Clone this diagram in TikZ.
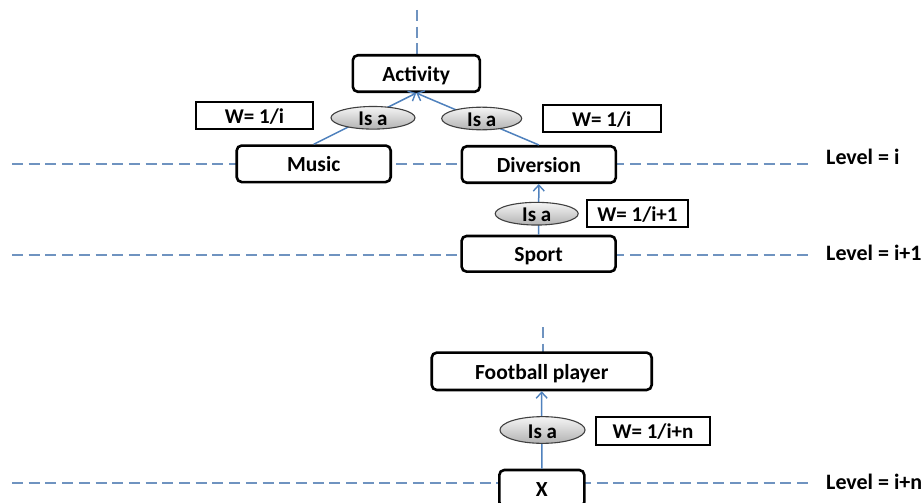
\documentclass[tikz,border=0pt]{standalone}
\usepackage{fontspec}
\setmainfont{Carlito}
\usetikzlibrary{arrows.meta,shapes.geometric}
\definecolor{linkblue}{HTML}{4F81BD}
\definecolor{levelblue}{HTML}{6F93C0}
\tikzset{
  centred caps/.style={text height=16pt, text depth=0pt},
  concept/.style={draw=black, line width=2.6pt, rounded corners=5pt, fill=white,
    inner sep=0pt, centred caps, font=\bfseries\fontsize{21.5}{25}\selectfont},
  weight/.style={draw=black, line width=1.8pt, fill=white, inner sep=0pt,
    centred caps, font=\bfseries\fontsize{21}{25}\selectfont},
  isa/.style={ellipse, draw=black!75, line width=1.1pt, top color=white!96!black,
    bottom color=black!30, inner sep=0pt, centred caps,
    font=\bfseries\fontsize{21}{25}\selectfont},
  levelline/.style={draw=levelblue, line width=1.6pt, dash pattern=on 11pt off 5.7pt},
  link/.style={draw=linkblue, line width=1.5pt, -{Straight Barb[length=6pt,width=11pt,line width=1.4pt]}},
  levellabel/.style={anchor=base west, inner sep=0pt, font=\bfseries\fontsize{22}{26}\selectfont}
}
\begin{document}
\begin{tikzpicture}[x=1pt,y=-1pt]
\useasboundingbox (0,0) rectangle (922,503);
\clip (0,0) rectangle (922,503);

% level lines and upward continuations
\coordinate (li0) at (12,164);     \coordinate (li1) at (813,164);
\coordinate (lj0) at (12,255);     \coordinate (lj1) at (813,255);
\coordinate (ln0) at (12,483);     \coordinate (ln1) at (813,483);
\coordinate (up1a) at (417,10);    \coordinate (up1b) at (417,55);
\coordinate (up2a) at (543,327);   \coordinate (up2b) at (543,353);
\draw[levelline] (li0) -- (li1);
\draw[levelline] (lj0) -- (lj1);
\draw[levelline] (ln0) -- (ln1);
\draw[levelline] (up1a) -- (up1b);
\draw[levelline] (up2a) -- (up2b);

% concepts
\node[concept, minimum width=127pt, minimum height=36.5pt] (act) at (416.3,73.5) {Activity};
\node[concept, minimum width=154pt, minimum height=36.5pt] (mus) at (313.7,163.8) {Music};
\node[concept, minimum width=154pt, minimum height=36.5pt] (div) at (538.8,164.5) {Diversion};
\node[concept, minimum width=154pt, minimum height=35.7pt] (spo) at (538.6,253.8) {Sport};
\node[concept, minimum width=220pt, minimum height=37.3pt] (foo) at (541.7,371.3) {Football player};
\node[concept, minimum width=85pt, minimum height=37pt] (x) at (541.8,488.5) {X};

% is-a links
\draw[link] (mus.north) -- (act.south);
\draw[link] (div.north) -- (act.south);
\draw[link] (spo.north) -- (div.south);
\draw[link] (x.north) -- (foo.south);

\node[isa, minimum width=84pt, minimum height=21.5pt] (isa1) at (373,117.8) {Is a};
\node[isa, minimum width=80pt, minimum height=21.5pt] (isa2) at (481.7,118.5) {Is a};
\node[isa, minimum width=83pt, minimum height=22.7pt] (isa3) at (536.7,213.7) {Is a};
\node[isa, minimum width=85pt, minimum height=26.7pt] (isa4) at (542.5,430) {Is a};

% weights
\node[weight, minimum width=117pt, minimum height=27.6pt] (w1) at (254.5,115.5) {W= 1/i};
\node[weight, minimum width=118pt, minimum height=27.3pt] (w2) at (601.7,118.7) {W= 1/i};
\node[weight, minimum width=101.6pt, minimum height=27.3pt] (w3) at (637.5,213.7) {W= 1/i+1};
\node[weight, minimum width=114pt, minimum height=28.3pt] (w4) at (653,430.8) {W= 1/i+n};

% level labels
\node[levellabel] (lvi) at (826,164.3) {Level = i};
\node[levellabel] (lvj) at (826,260) {Level = i+1};
\node[levellabel] (lvn) at (826,489) {Level = i+n};
\end{tikzpicture}
\end{document}
